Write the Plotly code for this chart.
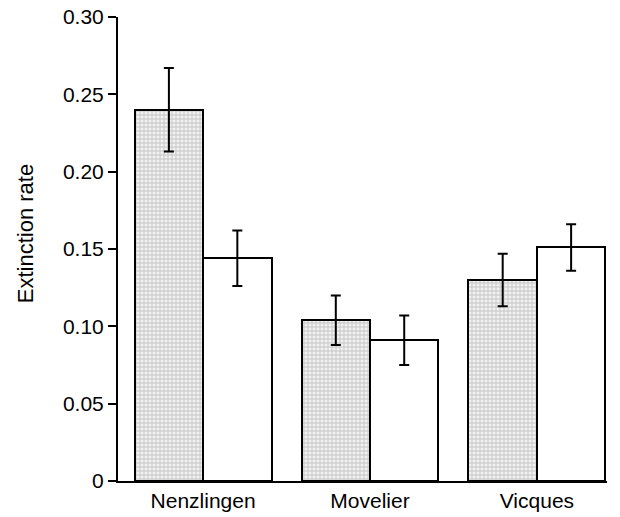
import plotly.graph_objects as go

categories = ["Nenzlingen", "Movelier", "Vicques"]
patterned_values = [0.240, 0.104, 0.130]
patterned_errors = [0.027, 0.016, 0.017]
white_values = [0.144, 0.091, 0.151]
white_errors = [0.018, 0.016, 0.015]
y_tickvals = [0, 0.05, 0.10, 0.15, 0.20, 0.25, 0.30]
y_ticktext = ["0", "0.05", "0.10", "0.15", "0.20", "0.25", "0.30"]
y_title = "Extinction rate"

x_idx = list(range(len(categories)))
bw = 0.41

fig = go.Figure()
fig.add_trace(go.Bar(
    x=[i - bw / 2 for i in x_idx], y=patterned_values, width=bw,
    marker=dict(color="#d0d0d0", line=dict(color="black", width=2),
                pattern=dict(shape="+", fgcolor="#909090", bgcolor="#f2f2f2", size=4, solidity=0.4)),
    error_y=dict(type="data", array=patterned_errors, color="black", thickness=2, width=5),
    showlegend=False, cliponaxis=False,
))
fig.add_trace(go.Bar(
    x=[i + bw / 2 for i in x_idx], y=white_values, width=bw,
    marker=dict(color="white", line=dict(color="black", width=2)),
    error_y=dict(type="data", array=white_errors, color="black", thickness=2, width=5),
    showlegend=False, cliponaxis=False,
))

fig.add_annotation(
    text=y_title, textangle=-90, xref="paper", yref="paper",
    x=-0.19, y=0.532, xanchor="center", yanchor="middle", showarrow=False,
    font=dict(size=22),
)

fig.update_layout(
    width=620, height=517,
    margin=dict(l=118, r=13, t=17, b=36),
    plot_bgcolor="white", paper_bgcolor="white",
    font=dict(family="Liberation Sans, Arial, sans-serif", size=21, color="black"),
    bargap=0, barmode="overlay",
    xaxis=dict(range=[-0.51, 2.42], tickvals=x_idx, ticktext=categories,
               showline=True, linecolor="black", linewidth=2, ticks="",
               showgrid=False, zeroline=False, automargin=False,
               tickfont=dict(size=21)),
    yaxis=dict(range=[0, 0.3 + 1e-9], tickvals=y_tickvals, ticktext=y_ticktext,
               showline=True, linecolor="black", linewidth=2, ticks="outside",
               ticklen=8, tickwidth=2, tickcolor="black", showgrid=False, zeroline=False,
               automargin=False, tickfont=dict(size=21)),
)

fig.write_html(
    "out.html",
    config={"displayModeBar": False},
    post_script="document.body.style.margin='0';document.body.style.padding='0';",
)
